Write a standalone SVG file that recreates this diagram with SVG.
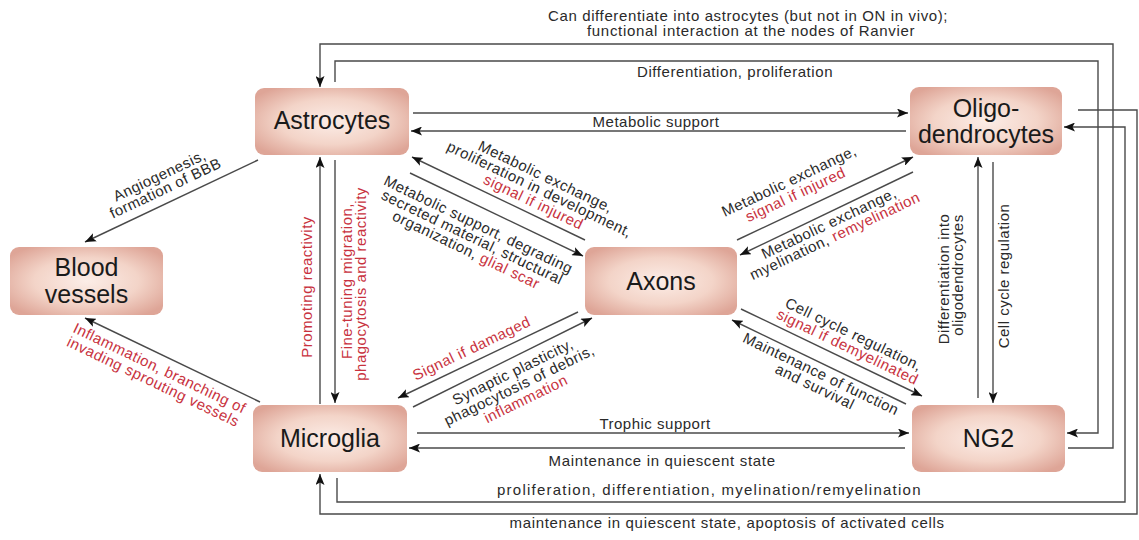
<svg xmlns="http://www.w3.org/2000/svg" width="1139" height="540" viewBox="0 0 1139 540">
<defs>
<radialGradient id="nf" cx="50%" cy="50%" r="62%">
<stop offset="0" stop-color="#fcede7"/>
<stop offset="0.55" stop-color="#f3d4c8"/>
<stop offset="1" stop-color="#dea597"/>
</radialGradient>
<marker id="ah" viewBox="0 0 11 9" refX="11" refY="4.5" markerWidth="11" markerHeight="9" markerUnits="userSpaceOnUse" orient="auto">
<path d="M0,0 L11,4.5 L0,9 L2.5,4.5 z" fill="#111"/>
</marker>
<style>
.n rect{fill:url(#nf);}
.n text{font-family:"Liberation Sans",Arial,sans-serif;font-size:25px;fill:#1a1a1a;text-anchor:middle;}
.c path{fill:none;stroke:#4a4a4a;stroke-width:1.4;}
.c .a{marker-end:url(#ah);}
.t{font-family:"Liberation Sans",Arial,sans-serif;font-size:15px;letter-spacing:0.5px;fill:#2a2a2a;text-anchor:middle;}
.r{fill:#c8323e;}
</style>
</defs>
<rect width="1139" height="540" fill="#ffffff"/>

<g id="connectors" class="c">
<path class="a" d="M1068,448 H1113 V44 H320 V87"/>
<path class="a" d="M335,82 V61 H1098 V433 H1067"/>
<path class="a" d="M1078,110 H1137 V514 H320 V474"/>
<path class="a" d="M337,478 V502 H1125 V127 H1064"/>
<path class="a" d="M413,113 H908"/>
<path class="a" d="M906,131 H411"/>
<path class="a" d="M417,433 H909"/>
<path class="a" d="M905,448 H409"/>
<path class="a" d="M320,404 V157"/>
<path class="a" d="M335,160 V403"/>
<path class="a" d="M978,398 V157"/>
<path class="a" d="M993,162 V403"/>
<path class="a" d="M258,160 L85,242"/>
<path class="a" d="M260,402 L85,318"/>
<path class="a" d="M585,240 L412,157"/>
<path class="a" d="M410,173 L583,256"/>
<path class="a" d="M737,240 L913,157"/>
<path class="a" d="M913,172 L740,255"/>
<path class="a" d="M741,309 L922,396"/>
<path class="a" d="M906,404 L732,320"/>
<path class="a" d="M578,312 L398,398"/>
<path class="a" d="M413,407 L592,318"/>
</g>

<g id="labels">
<text class="t" x="748" y="21" textLength="400">Can differentiate into astrocytes (but not in ON in vivo);</text>
<text class="t" x="751" y="36" textLength="328">functional interaction at the nodes of Ranvier</text>
<text class="t" x="735" y="77" textLength="196">Differentiation, proliferation</text>
<text class="t" x="656" y="127">Metabolic support</text>
<text class="t" x="655" y="429">Trophic support</text>
<text class="t" x="662" y="466" textLength="227">Maintenance in quiescent state</text>
<text class="t" x="709" y="495" textLength="424">proliferation, differentiation, myelination/remyelination</text>
<text class="t" x="727" y="528" textLength="435">maintenance in quiescent state, apoptosis of activated cells</text>

<g transform="translate(171.5,201) rotate(-25.36)">
<text class="t" x="0" y="-23">Angiogenesis,</text>
<text class="t" x="0" y="-9">formation of BBB</text>
</g>
<g transform="translate(172.5,360) rotate(25.64)">
<text class="t r" x="-8" y="18">Inflammation, branching of</text>
<text class="t r" x="-8" y="33">invading sprouting vessels</text>
</g>
<g transform="translate(498.5,198.5) rotate(25.63)">
<text class="t" x="33" y="-35">Metabolic exchange,</text>
<text class="t" x="33" y="-21">proliferation in development,</text>
<text class="t r" x="33" y="-7">signal if injured</text>
</g>
<g transform="translate(496.5,214.5) rotate(25.63)">
<text class="t" x="-12" y="22">Metabolic support, degrading</text>
<text class="t" x="-12" y="36">secreted material, structural</text>
<text class="t" x="-12" y="50">organization, <tspan class="r">glial scar</tspan></text>
</g>
<g transform="translate(825,198.5) rotate(-25.25)">
<text class="t" x="-25" y="-26">Metabolic exchange,</text>
<text class="t r" x="-25" y="-11">signal if injured</text>
</g>
<g transform="translate(826.5,213.5) rotate(-25.25)">
<text class="t" x="-2" y="15">Metabolic exchange,</text>
<text class="t" x="-2" y="29">myelination, <tspan class="r">remyelination</tspan></text>
</g>
<g transform="translate(831.5,352.5) rotate(25.7)">
<text class="t" x="12" y="-21">Cell cycle regulation,</text>
<text class="t r" x="12" y="-7">signal if demyelinated</text>
</g>
<g transform="translate(819,362) rotate(25.7)">
<text class="t" x="7" y="15">Maintenance of function</text>
<text class="t" x="7" y="29">and survival</text>
</g>
<g transform="translate(488,355) rotate(-25.54)">
<text class="t r" x="-12" y="-8">Signal if damaged</text>
</g>
<g transform="translate(502.5,362.5) rotate(-26)">
<text class="t" x="5" y="18">Synaptic plasticity,</text>
<text class="t" x="5" y="33">phagocytosis of debris,</text>
<text class="t r" x="5" y="48">inflammation</text>
</g>

<text class="t r" transform="translate(312,287) rotate(-90)">Promoting reactivity</text>
<text class="t r" transform="translate(352,281) rotate(-90)">Fine-tuning migration,</text>
<text class="t r" transform="translate(366,284) rotate(-90)">phagocytosis and reactivity</text>
<text class="t" transform="translate(949,279) rotate(-90)">Differentiation into</text>
<text class="t" transform="translate(963,275) rotate(-90)">oligodendrocytes</text>
<text class="t" transform="translate(1009,276) rotate(-90)">Cell cycle regulation</text>
</g>

<g id="astrocytes" class="n">
<rect x="255" y="88" width="154" height="67" rx="9"/>
<text x="332" y="129">Astrocytes</text>
</g>
<g id="oligodendrocytes" class="n">
<rect x="910" y="87" width="152" height="68" rx="9"/>
<text x="986" y="117">Oligo-</text>
<text x="986" y="143">dendrocytes</text>
</g>
<g id="blood-vessels" class="n">
<rect x="10" y="247" width="153" height="68" rx="9"/>
<text x="86.5" y="276">Blood</text>
<text x="86.5" y="303">vessels</text>
</g>
<g id="axons" class="n">
<rect x="585" y="247" width="152" height="68" rx="9"/>
<text x="661" y="290">Axons</text>
</g>
<g id="microglia" class="n">
<rect x="253" y="405" width="154" height="67" rx="9"/>
<text x="330" y="447">Microglia</text>
</g>
<g id="ng2" class="n">
<rect x="912" y="405" width="153" height="67" rx="9"/>
<text x="988.5" y="447">NG2</text>
</g>
</svg>
